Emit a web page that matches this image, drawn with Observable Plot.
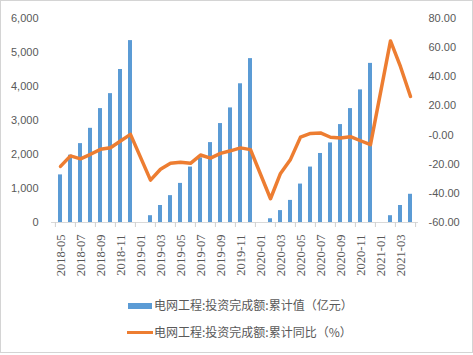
<!DOCTYPE html>
<html>
<head>
<meta charset="utf-8">
<script src="https://cdn.jsdelivr.net/npm/d3@7"></script>
<script src="https://cdn.jsdelivr.net/npm/@observablehq/plot@0.6"></script>
<style>
  html, body { margin: 0; padding: 0; background: #fff; }
  #wrap { position: relative; width: 473px; height: 355px; overflow: hidden; }
  #frame { position: absolute; left: 0; top: 0; width: 471px; height: 351px; border: 1px solid #d4d4d4; pointer-events: none; }
  #chart { position: absolute; left: 0; top: 0; }
  .leg { position: absolute; font-family: "Noto Sans CJK SC", sans-serif; font-size: 12px; color: #595959; white-space: nowrap; line-height: 14px; }
  .sw { position: absolute; }
</style>
</head>
<body>
<div id="wrap">
  <div id="chart"></div>
  <div class="sw" style="left:128px; top:303px; width:24px; height:6px; background:#5b9bd5;"></div>
  <div class="leg" style="left:154px; top:298px;">电网工程:投资完成额:累计值（亿元）</div>
  <div class="sw" style="left:127px; top:331px; width:26px; height:3px; background:#ed7d31;"></div>
  <div class="leg" style="left:154px; top:325px;">电网工程:投资完成额:累计同比（%）</div>
  <div id="frame"></div>
</div>
<script>
const months = [
  "2018-05","2018-06","2018-07","2018-08","2018-09","2018-10","2018-11","2018-12",
  "2019-01","2019-02","2019-03","2019-04","2019-05","2019-06","2019-07","2019-08","2019-09","2019-10","2019-11","2019-12",
  "2020-01","2020-02","2020-03","2020-04","2020-05","2020-06","2020-07","2020-08","2020-09","2020-10","2020-11","2020-12",
  "2021-01","2021-02","2021-03","2021-04"
];
const cumValue = [
  1400,1980,2320,2770,3350,3790,4500,5350,
  null,200,500,790,1150,1630,1900,2350,2910,3370,4080,4820,
  null,110,350,650,1130,1630,2030,2340,2880,3350,3900,4680,
  null,200,500,830
];
const cumYoY = [
  -21.5,-14.3,-16.3,-13.2,-9.8,-8.7,-4.1,0.5,
  null,-30.9,-23.5,-19.4,-18.7,-19.4,-13.7,-15.8,-12.6,-10.8,-8.8,-10.0,
  null,-43.7,-26.3,-16.7,-1.4,1.1,1.5,-1.5,-2.0,-1.1,-3.9,-6.6,
  null,64.6,46.9,26.5
];
const labelMonths = [
  "2018-05","2018-07","2018-09","2018-11","2019-01","2019-03","2019-05","2019-07","2019-09",
  "2019-11","2020-01","2020-03","2020-05","2020-07","2020-09","2020-11","2021-01","2021-03"
];
const leftTicks = [0,1000,2000,3000,4000,5000,6000];
const rightTicks = [-60,-40,-20,0,20,40,60,80];

const leftDomain = [0, 6000];
const rightDomain = [-60, 80];
const toLeft = v => (v - rightDomain[0]) / (rightDomain[1] - rightDomain[0]) * (leftDomain[1] - leftDomain[0]) + leftDomain[0];
const fromLeft = v => (v - leftDomain[0]) / (leftDomain[1] - leftDomain[0]) * (rightDomain[1] - rightDomain[0]) + rightDomain[0];

const barData = months.map((m, i) => ({m, v: cumValue[i]})).filter(d => d.v != null);
const lineData = months.map((m, i) => ({m, r: cumYoY[i]})).filter(d => d.r != null);

const W = 473, H = 290, mL = 51, mR = 55, mT = 18, mB = 68;
const step = (W - mL - mR) / months.length;
const labelColor = "#595959";
const sans = "'Liberation Sans', Arial, sans-serif";

const chart = Plot.plot({
  width: W, height: H,
  marginLeft: mL, marginRight: mR, marginTop: mT, marginBottom: mB,
  style: {background: "transparent", overflow: "visible"},
  x: {type: "band", domain: months, paddingInner: 0.63, paddingOuter: 0.315, axis: null, label: null},
  y: {domain: leftDomain, axis: null, label: null},
  marks: [
    Plot.barY(barData, {x: "m", y: "v", fill: "#5b9bd5"}),
    Plot.ruleY([0], {stroke: "#d9d9d9", strokeWidth: 1}),
    Plot.axisX(months.filter((m, i) => i % 2 === 0), {tickSize: 5, tickFormat: () => "", label: null, dx: -step / 2, stroke: "#d0d0d0"}),
    Plot.axisX([months[months.length - 1]], {tickSize: 5, tickFormat: () => "", label: null, dx: step / 2, stroke: "#d0d0d0"}),
    Plot.axisX(labelMonths, {tickSize: 0, tickPadding: 12, tickRotate: -90, fontSize: 12.5, label: null,
      fontFamily: "'Liberation Serif', 'Times New Roman', serif", fill: labelColor}),
    Plot.lineY(lineData, {x: "m", y: d => toLeft(d.r), stroke: "#ed7d31", strokeWidth: 3.5,
      strokeLinejoin: "round", strokeLinecap: "round"}),
    Plot.axisY(leftTicks, {anchor: "left", tickSize: 0, tickPadding: 13, tickFormat: d3.format(","), label: null,
      fontSize: 11, fontFamily: sans, fill: labelColor}),
    Plot.axisY(rightTicks.map(toLeft), {anchor: "right", tickSize: 0, tickPadding: 10, label: null,
      tickFormat: d => fromLeft(d).toFixed(2), fontSize: 11, fontFamily: sans, fill: labelColor})
  ]
});
document.getElementById("chart").appendChild(chart);
</script>
</body>
</html>
